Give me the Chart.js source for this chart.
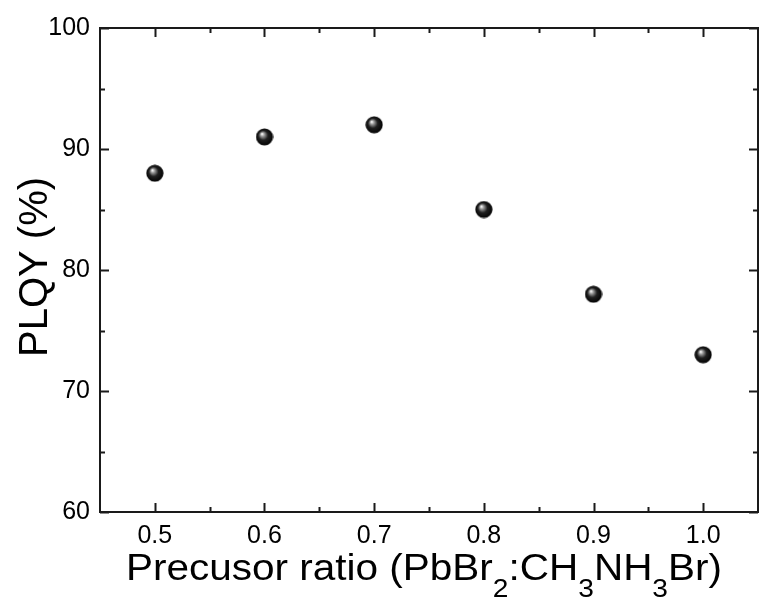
<!DOCTYPE html>
<html><head><meta charset="utf-8">
<script src="https://cdn.jsdelivr.net/npm/chart.js@4"></script>
<style>html,body{margin:0;padding:0;background:#fff;overflow:hidden}canvas{display:block}</style>
</head><body>
<canvas id="c" width="761" height="600"></canvas>
<script>
const ratios = [0.5, 0.6, 0.7, 0.8, 0.9, 1.0];
const plqy = [88, 91, 92, 85, 78, 73];
const xTicks = [0.5, 0.6, 0.7, 0.8, 0.9, 1.0];
const xMinorTicks = [0.55, 0.65, 0.75, 0.85, 0.95];
const yTicks = [60, 70, 80, 90, 100];
const yMinorTicks = [65, 75, 85, 95];
const yTitle = "PLQY (%)";
const xTitleParts = [["Precusor ratio (PbBr", 0], ["2", 1], [":CH", 0], ["3", 1], ["NH", 0], ["3", 1], ["Br)", 0]];

const FONT = "'Liberation Sans', Arial, sans-serif";

// sphere marker
const sphere = document.createElement('canvas');
sphere.width = 18; sphere.height = 18;
(function(){
  const g = sphere.getContext('2d');
  const grd = g.createRadialGradient(6.5, 6, 0.5, 9, 9, 9);
  grd.addColorStop(0, '#f4f4f4');
  grd.addColorStop(0.18, '#9a9a9a');
  grd.addColorStop(0.5, '#202020');
  grd.addColorStop(1, '#000000');
  g.fillStyle = grd;
  g.beginPath(); g.arc(9, 9, 8.6, 0, Math.PI * 2); g.fill();
})();

const frame = {
  id: 'frame',
  afterDatasetsDraw(chart) {
    const ctx = chart.ctx, a = chart.chartArea;
    const xs = chart.scales.x, ys = chart.scales.y;
    ctx.save();
    ctx.strokeStyle = '#1a1a1a';
    ctx.lineWidth = 2;
    ctx.strokeRect(a.left, a.top, a.right - a.left, a.bottom - a.top);
    ctx.beginPath();
    const tick = (vals, len) => {
      vals.forEach(v => {
        const px = Math.round(xs.getPixelForValue(v)) + 0.5;
        ctx.moveTo(px, a.bottom); ctx.lineTo(px, a.bottom - len);
        ctx.moveTo(px, a.top); ctx.lineTo(px, a.top + len);
      });
    };
    const ytick = (vals, len) => {
      vals.forEach(v => {
        const py = Math.round(ys.getPixelForValue(v)) + 0.5;
        ctx.moveTo(a.left, py); ctx.lineTo(a.left + len, py);
        ctx.moveTo(a.right, py); ctx.lineTo(a.right - len, py);
      });
    };
    tick(xTicks, 9); tick(xMinorTicks, 5);
    ytick(yTicks, 9); ytick(yMinorTicks, 5);
    ctx.stroke();

    // axis titles
    ctx.fillStyle = '#000';
    ctx.textBaseline = 'alphabetic';
    const mainF = '36px ' + FONT, subF = '25px ' + FONT;
    let total = 0;
    xTitleParts.forEach(([t, s]) => { ctx.font = s ? subF : mainF; total += ctx.measureText(t).width; });
    const targetW = 596;
    const sx = targetW / total;
    const base = 580;
    ctx.save();
    ctx.translate(126, 0);
    ctx.scale(sx, 1);
    let x = 0;
    ctx.textAlign = 'left';
    xTitleParts.forEach(([t, s]) => {
      ctx.font = s ? subF : mainF;
      ctx.fillText(t, x, s ? base + 17 : base);
      x += ctx.measureText(t).width;
    });
    ctx.restore();
    // y title
    ctx.translate(47, 267);
    ctx.rotate(-Math.PI / 2);
    ctx.font = '40px ' + FONT;
    ctx.textAlign = 'center';
    ctx.fillText(yTitle, 0, 0);
    ctx.restore();
  }
};

new Chart(document.getElementById('c'), {
  type: 'scatter',
  data: {
    datasets: [{
      data: ratios.map((r, i) => ({ x: r, y: plqy[i] })),
      pointStyle: sphere,
      pointRadius: 9,
      pointHoverRadius: 9
    }]
  },
  options: {
    responsive: false,
    animation: false,
    events: [],
    layout: { autoPadding: false, padding: { top: 28, right: 3, left: 0, bottom: 0 } },
    plugins: { legend: { display: false }, tooltip: { enabled: false } },
    scales: {
      x: {
        type: 'linear', min: 0.45, max: 1.05,
        afterBuildTicks: s => { s.ticks = xTicks.map(v => ({ value: v })); },
        ticks: { color: '#000', font: { size: 25, family: FONT }, padding: 9, maxRotation: 0,
                 callback: v => Number(v).toFixed(1) },
        grid: { display: false, drawTicks: false }, border: { display: false },
        afterFit: s => { s.height = 88; s.paddingLeft = 0; s.paddingRight = 0; }
      },
      y: {
        type: 'linear', min: 60, max: 100,
        afterBuildTicks: s => { s.ticks = yTicks.map(v => ({ value: v })); },
        ticks: { color: '#000', font: { size: 25, family: FONT }, padding: 10 },
        grid: { display: false, drawTicks: false }, border: { display: false },
        afterFit: s => { s.width = 100; s.paddingTop = 0; s.paddingBottom = 0; }
      }
    }
  },
  plugins: [frame]
});
</script>
</body></html>
